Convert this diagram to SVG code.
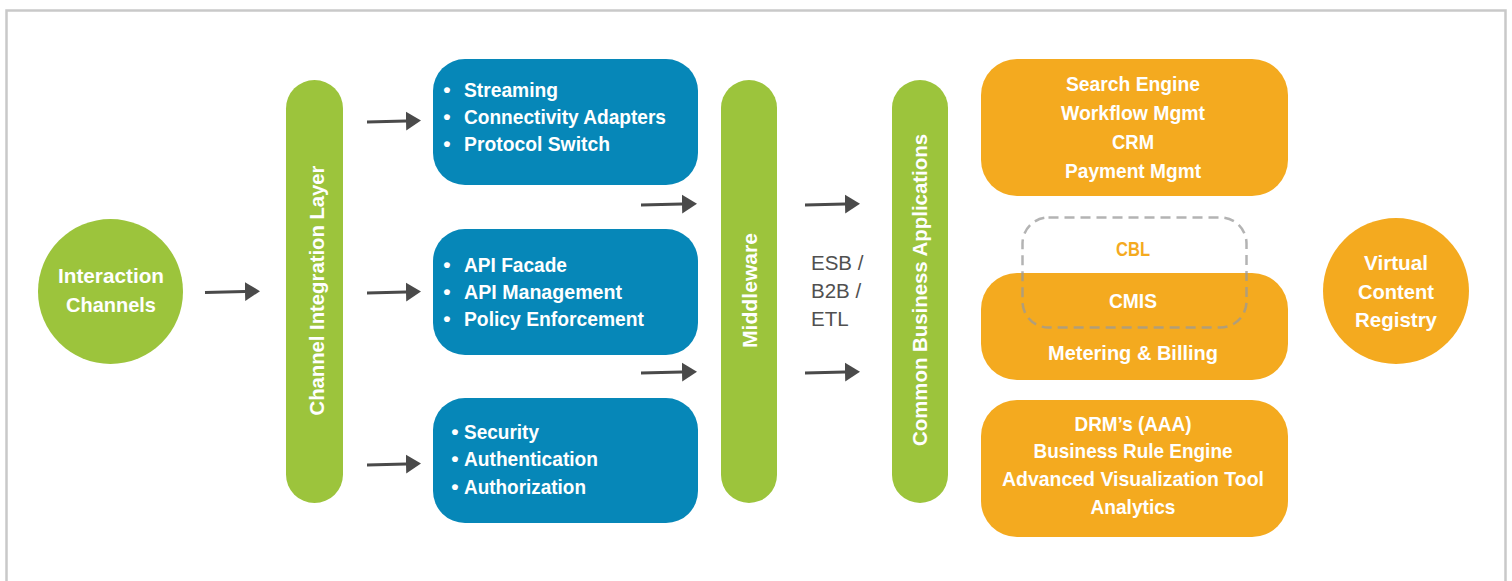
<svg xmlns="http://www.w3.org/2000/svg" width="1512" height="581" viewBox="0 0 1512 581">
<defs>
<style>
.frame{fill:#fff;stroke:#c9c9c9;stroke-width:2.5}
.g{fill:#9cc43c}
.b{fill:#0687b8}
.o{fill:#f4aa1f}
.t{font-family:"Liberation Sans",Arial,sans-serif;font-weight:bold;font-size:21px;fill:#fff}
.c{text-anchor:middle}
.lbl{font-family:"Liberation Sans",Arial,sans-serif;font-size:20.5px;fill:#505050}
.cbl{fill:#f4aa1f}
.dash{fill:none;stroke:#9a9a9a;stroke-opacity:0.75;stroke-width:2.5;stroke-dasharray:10 6}
.arr{stroke:#4a4a4a;stroke-width:3;fill:none;marker-end:url(#ah)}
</style>
<marker id="ah" markerUnits="userSpaceOnUse" markerWidth="16" markerHeight="20" refX="0" refY="9.5" orient="auto" viewBox="0 0 16 20">
<path d="M0,0 L15,9.5 L0,19 Z" fill="#4a4a4a"/>
</marker>
</defs>
<rect class="frame" x="6.5" y="10.5" width="1499" height="600"/>

<g id="connectors">
<line class="arr" x1="205" y1="292.5" x2="245" y2="291.5"/>
<line class="arr" x1="367" y1="122" x2="406" y2="121"/>
<line class="arr" x1="367" y1="293" x2="406" y2="292"/>
<line class="arr" x1="367" y1="465" x2="406" y2="464"/>
<line class="arr" x1="641" y1="205" x2="682" y2="204"/>
<line class="arr" x1="641" y1="373" x2="682" y2="372"/>
<line class="arr" x1="805" y1="205" x2="845" y2="204"/>
<line class="arr" x1="805" y1="373" x2="845" y2="372"/>
</g>

<g id="interaction-channels">
<circle class="g" cx="110.5" cy="291.5" r="72.5"/>
<text class="t c" font-size="22" x="111" y="283" textLength="106" lengthAdjust="spacingAndGlyphs">Interaction</text>
<text class="t c" font-size="22" x="111" y="312" textLength="90" lengthAdjust="spacingAndGlyphs">Channels</text>
</g>

<g id="channel-integration-layer">
<rect class="g" x="286" y="80" width="57" height="423" rx="28.5"/>
<text class="t c" transform="translate(324,290.5) rotate(-90)" textLength="250" lengthAdjust="spacingAndGlyphs">Channel Integration Layer</text>
</g>

<g id="box-streaming">
<rect class="b" x="433" y="59" width="265" height="126" rx="32"/>
<text class="t c" x="447" y="96.5">•</text>
<text class="t c" x="447" y="123.5">•</text>
<text class="t c" x="447" y="150.5">•</text>
<text class="t" x="464" y="96.5" textLength="94" lengthAdjust="spacingAndGlyphs">Streaming</text>
<text class="t" x="464" y="123.5" textLength="202" lengthAdjust="spacingAndGlyphs">Connectivity Adapters</text>
<text class="t" x="464" y="150.5" textLength="146" lengthAdjust="spacingAndGlyphs">Protocol Switch</text>
</g>

<g id="box-api">
<rect class="b" x="433" y="229" width="265" height="126" rx="32"/>
<text class="t c" x="447" y="272">•</text>
<text class="t c" x="447" y="299">•</text>
<text class="t c" x="447" y="325.5">•</text>
<text class="t" x="464" y="272" textLength="103" lengthAdjust="spacingAndGlyphs">API Facade</text>
<text class="t" x="464" y="299" textLength="158" lengthAdjust="spacingAndGlyphs">API Management</text>
<text class="t" x="464" y="325.5" textLength="180" lengthAdjust="spacingAndGlyphs">Policy Enforcement</text>
</g>

<g id="box-security">
<rect class="b" x="433" y="398" width="265" height="125" rx="32"/>
<text class="t c" x="455" y="439">•</text>
<text class="t c" x="455" y="466">•</text>
<text class="t c" x="455" y="494">•</text>
<text class="t" x="464" y="439" textLength="75" lengthAdjust="spacingAndGlyphs">Security</text>
<text class="t" x="464" y="466" textLength="134" lengthAdjust="spacingAndGlyphs">Authentication</text>
<text class="t" x="464" y="494" textLength="122" lengthAdjust="spacingAndGlyphs">Authorization</text>
</g>

<g id="middleware">
<rect class="g" x="721" y="80" width="56" height="423" rx="28"/>
<text class="t c" transform="translate(756.5,290.5) rotate(-90)" textLength="115" lengthAdjust="spacingAndGlyphs">Middleware</text>
</g>

<g id="esb-label">
<text class="lbl" x="811" y="270">ESB /</text>
<text class="lbl" x="811" y="298">B2B /</text>
<text class="lbl" x="811" y="326">ETL</text>
</g>

<g id="common-business-applications">
<rect class="g" x="892" y="80" width="56" height="423" rx="28"/>
<text class="t c" transform="translate(927,290) rotate(-90)" textLength="312" lengthAdjust="spacingAndGlyphs">Common Business Applications</text>
</g>

<g id="box-search">
<rect class="o" x="981" y="59" width="307" height="137" rx="36"/>
<text class="t c" x="1133" y="91" textLength="134" lengthAdjust="spacingAndGlyphs">Search Engine</text>
<text class="t c" x="1133" y="120" textLength="144" lengthAdjust="spacingAndGlyphs">Workflow Mgmt</text>
<text class="t c" x="1133" y="149" textLength="42" lengthAdjust="spacingAndGlyphs">CRM</text>
<text class="t c" x="1133" y="178" textLength="136" lengthAdjust="spacingAndGlyphs">Payment Mgmt</text>
</g>

<g id="box-metering">
<rect class="o" x="981" y="273" width="307" height="107" rx="36"/>
<text class="t c" x="1133" y="308" textLength="48" lengthAdjust="spacingAndGlyphs">CMIS</text>
<text class="t c" x="1133" y="360" textLength="170" lengthAdjust="spacingAndGlyphs">Metering &amp; Billing</text>
</g>

<g id="cbl">
<rect class="dash" x="1022.5" y="217.5" width="224" height="110" rx="26"/>
<text class="t c cbl" x="1133" y="256" textLength="34" lengthAdjust="spacingAndGlyphs">CBL</text>
</g>

<g id="box-drm">
<rect class="o" x="981" y="400" width="307" height="137" rx="36"/>
<text class="t c" x="1133" y="431" textLength="117" lengthAdjust="spacingAndGlyphs">DRM’s (AAA)</text>
<text class="t c" x="1133" y="458" textLength="199" lengthAdjust="spacingAndGlyphs">Business Rule Engine</text>
<text class="t c" x="1133" y="486" textLength="262" lengthAdjust="spacingAndGlyphs">Advanced Visualization Tool</text>
<text class="t c" x="1133" y="513.5" textLength="85" lengthAdjust="spacingAndGlyphs">Analytics</text>
</g>

<g id="virtual-content-registry">
<circle class="o" cx="1396" cy="291" r="73"/>
<text class="t c" font-size="22" x="1396" y="270" textLength="64" lengthAdjust="spacingAndGlyphs">Virtual</text>
<text class="t c" font-size="22" x="1396" y="298.5" textLength="76" lengthAdjust="spacingAndGlyphs">Content</text>
<text class="t c" font-size="22" x="1396" y="327" textLength="82" lengthAdjust="spacingAndGlyphs">Registry</text>
</g>
</svg>
